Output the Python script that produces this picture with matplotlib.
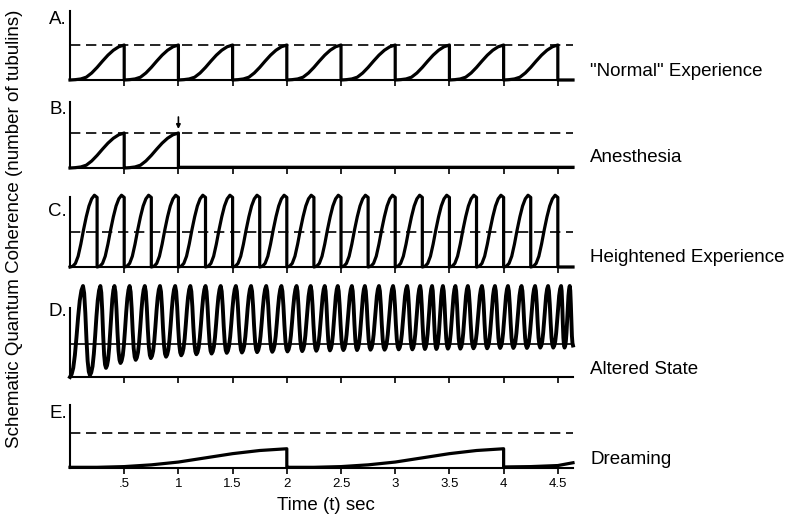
import matplotlib
matplotlib.use("Agg")
import matplotlib.pyplot as plt

plt.rcParams['font.family'] = ['Liberation Sans', 'DejaVu Sans']

# figure size in pixels and horizontal scale
W, H = 791, 515
T_MAX = 4.64
X_LEFT, X_RIGHT = 70, 573
PX_PER_UNIT = 35   # pixels for one "threshold" unit (dashed line height)

TICK_TIMES = [0.5, 1.0, 1.5, 2.0, 2.5, 3.0, 3.5, 4.0, 4.5]
TICK_LABELS = ['.5', '1', '1.5', '2', '2.5', '3', '3.5', '4', '4.5']

PANEL_LETTERS = ['A.', 'B.', 'C.', 'D.', 'E.']
PANEL_NAMES = ['"Normal" Experience', 'Anesthesia', 'Heightened Experience',
               'Altered State', 'Dreaming']

# panel geometry in pixels (baseline, top of y axis, letter y, name y)
PANEL_BASE = [80, 168, 267, 377, 468]
PANEL_TOP = [11, 102, 197, 308, 405]
LETTER_Y = [19, 109, 212, 312, 413]
NAME_Y = [71, 158, 258, 370, 460]
THRESHOLD = [1.0, 1.0, 1.0, 0.94, 1.0]

# A and B: slow rise over a 0.5 s cycle, fraction of threshold
SLOW_PHASE = [0, 0.1, 0.2, 0.3, 0.4, 0.5, 0.6, 0.7, 0.8, 0.9, 1.0]
SLOW_RISE = [0, 0.01, 0.03, 0.08, 0.20, 0.36, 0.54, 0.71, 0.85, 0.95, 1.0]
A_STARTS = [0.0, 0.5, 1.0, 1.5, 2.0, 2.5, 3.0, 3.5, 4.0]
B_STARTS = [0.0, 0.5]
B_FLAT = 0.02
B_ARROW_T = 1.0

# C: 0.25 s cycles overshooting the threshold
C_PHASE = [0, 0.1, 0.2, 0.3, 0.4, 0.5, 0.6, 0.7, 0.8, 0.9, 1.0]
C_RISE = [0, 0.01, 0.05, 0.15, 0.32, 0.52, 0.70, 0.85, 0.95, 1.0, 0.97]
C_PEAK = 2.05
C_STARTS = [0.0, 0.25, 0.5, 0.75, 1.0, 1.25, 1.5, 1.75, 2.0, 2.25, 2.5,
            2.75, 3.0, 3.25, 3.5, 3.75, 4.0, 4.25]

# D: fast spikes, troughs creeping up
D_PEAK_TIMES = [0.12, 0.28, 0.41, 0.55, 0.69, 0.83, 0.97, 1.11, 1.25, 1.39,
                1.53, 1.67, 1.81, 1.95, 2.09, 2.22, 2.35, 2.47, 2.60, 2.72,
                2.85, 2.98, 3.11, 3.23, 3.34, 3.44, 3.555, 3.67, 3.80, 3.92,
                4.04, 4.165, 4.29, 4.41, 4.53, 4.61]
D_TROUGHS = [0.05, 0.26, 0.40, 0.49, 0.54, 0.58, 0.62, 0.65, 0.67, 0.69,
             0.70, 0.71, 0.72, 0.73, 0.74, 0.75, 0.76, 0.77, 0.77, 0.78,
             0.78, 0.79, 0.79, 0.80, 0.80, 0.81, 0.81, 0.82, 0.82, 0.83,
             0.83, 0.83, 0.84, 0.84, 0.84, 0.90]
D_PEAK = 2.6
D_RISE = [0, 0.03, 0.10, 0.24, 0.44, 0.66, 0.84, 0.95, 1.0]
D_FALL = [1.0, 0.92, 0.70, 0.40, 0.16, 0.04, 0.0]
D_FALL_FRAC = 0.4

# E: 2 s cycles, never reaching threshold
E_PHASE = [0, 0.125, 0.25, 0.375, 0.5, 0.625, 0.75, 0.875, 1.0]
E_RISE = [0.02, 0.02, 0.04, 0.09, 0.17, 0.29, 0.41, 0.50, 0.55]
E_STARTS = [0.0, 2.0]
E_TAIL_T = [4.0, 4.25, 4.5, 4.64]
E_TAIL = [0.03, 0.04, 0.07, 0.15]


def cycles(starts, period, phase, shape, amp=1.0, drop=0.0):
    t, y = [], []
    for s in starts:
        t += [s + p * period for p in phase]
        y += [amp * v for v in shape]
        t.append(s + period)
        y.append(drop)
    return t, y


def spikes(peaks, troughs):
    t, y = [0.0], [0.0]
    prev_t, prev_lvl = 0.0, 0.0
    for i, p in enumerate(peaks):
        n = len(D_RISE) - 1
        for k in range(1, n + 1):
            t.append(prev_t + (p - prev_t) * k / n)
            y.append(prev_lvl + (D_PEAK - prev_lvl) * D_RISE[k])
        if i + 1 < len(peaks):
            tr_t = p + D_FALL_FRAC * (peaks[i + 1] - p)
        else:
            tr_t = T_MAX
        lvl = troughs[i]
        m = len(D_FALL) - 1
        for k in range(1, m + 1):
            t.append(p + (tr_t - p) * k / m)
            y.append(lvl + (D_PEAK - lvl) * D_FALL[k])
        prev_t, prev_lvl = tr_t, lvl
    return t, y


# build the five curves
ta, ya = cycles(A_STARTS, 0.5, SLOW_PHASE, SLOW_RISE)
ta.append(T_MAX); ya.append(0)
tb, yb = cycles(B_STARTS, 0.5, SLOW_PHASE, SLOW_RISE, drop=B_FLAT)
tb.append(T_MAX); yb.append(B_FLAT)
tc, yc = cycles(C_STARTS, 0.25, C_PHASE, C_RISE, amp=C_PEAK)
tc.append(T_MAX); yc.append(0)
td, yd = spikes(D_PEAK_TIMES, D_TROUGHS)
te, ye = cycles(E_STARTS, 2.0, E_PHASE, E_RISE, drop=0.03)
te += E_TAIL_T; ye += E_TAIL
curves = [(ta, ya), (tb, yb), (tc, yc), (td, yd), (te, ye)]
widths = [2.3, 2.3, 2.3, 2.8, 2.3]

fig = plt.figure(figsize=(W / 100, H / 100), dpi=100)

axes = []
for i in range(5):
    base, top = PANEL_BASE[i], PANEL_TOP[i]
    ax = fig.add_axes([X_LEFT / W, 1 - base / H, (X_RIGHT - X_LEFT) / W, (base - top) / H])
    ax.set_xlim(0, T_MAX)
    ax.set_ylim(0, (base - top) / PX_PER_UNIT)
    for s in ['top', 'right']:
        ax.spines[s].set_visible(False)
    for s in ['left', 'bottom']:
        ax.spines[s].set_linewidth(1.5)
    ax.set_yticks([])
    ax.set_xticks(TICK_TIMES)
    ax.tick_params(axis='x', direction='out', length=4, width=1.2, pad=3.5,
                   labelsize=9.5, labelbottom=(i == 4))
    if i == 4:
        ax.set_xticklabels(TICK_LABELS)
    if i == 3:
        ax.axhline(THRESHOLD[i], color='black', lw=1.2)
    else:
        ax.axhline(THRESHOLD[i], color='black', lw=1.2, ls=(0, (6.2, 3.4)))
    t, y = curves[i]
    ax.plot(t, y, color='black', lw=widths[i], clip_on=False, solid_joinstyle='round')

    fig.text(67 / W, 1 - LETTER_Y[i] / H, PANEL_LETTERS[i], ha='right', va='center',
             fontsize=13.5)
    fig.text(590 / W, 1 - NAME_Y[i] / H, PANEL_NAMES[i], ha='left', va='center',
             fontsize=13.5)
    axes.append(ax)

# arrow marking onset of anesthesia
axes[1].annotate('', xy=(B_ARROW_T, 39 / PX_PER_UNIT), xytext=(B_ARROW_T, 51 / PX_PER_UNIT),
                 arrowprops=dict(arrowstyle='-|>', color='black', lw=1.2, mutation_scale=6,
                                 shrinkA=0, shrinkB=0))

fig.text(326 / W, 1 - 505 / H, 'Time (t) sec', ha='center', va='center', fontsize=13.5)
fig.text(15 / W, 1 - 229 / H, 'Schematic Quantum Coherence (number of tubulins)',
         ha='center', va='center', rotation=90, fontsize=13.5)

fig.savefig('out.png', dpi=100)
